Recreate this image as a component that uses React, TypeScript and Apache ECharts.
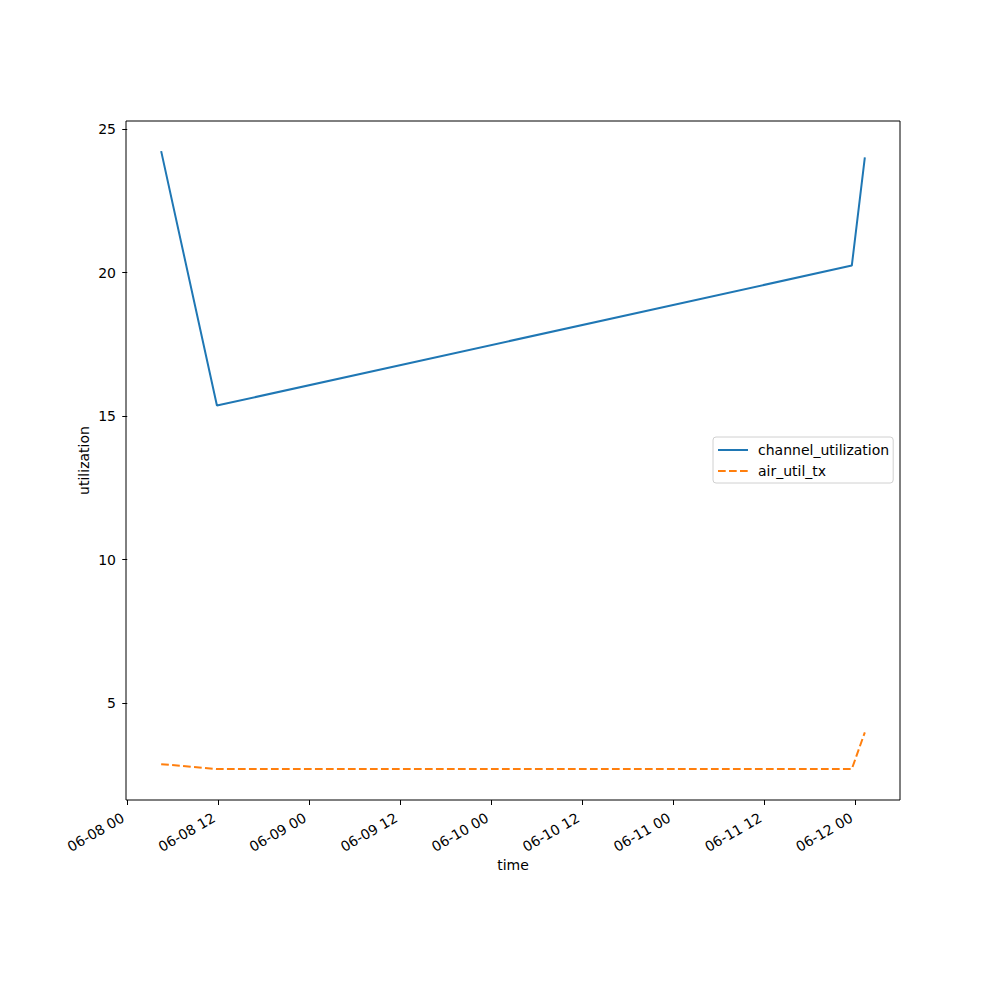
import React, { useEffect, useRef } from "react";
import * as echarts from "echarts";

const times = [
  "2024-06-08T04:28:00Z",
  "2024-06-08T11:49:00Z",
  "2024-06-11T23:29:00Z",
  "2024-06-12T01:12:00Z",
];
const channelUtilization = [24.24, 15.37, 20.25, 24.02];
const airUtilTx = [2.87, 2.7, 2.7, 3.98];
const xTicks = [
  "2024-06-08T00:00:00Z",
  "2024-06-08T12:00:00Z",
  "2024-06-09T00:00:00Z",
  "2024-06-09T12:00:00Z",
  "2024-06-10T00:00:00Z",
  "2024-06-10T12:00:00Z",
  "2024-06-11T00:00:00Z",
  "2024-06-11T12:00:00Z",
  "2024-06-12T00:00:00Z",
];
const yTicks = [5, 10, 15, 20, 25];
const xMin = "2024-06-07T23:50:00Z";
const xMax = "2024-06-12T05:50:00Z";
const yMin = 1.62;
const yMax = 25.29;

const FONT = "DejaVu Sans";
const ORIGIN = Date.parse(xTicks[0]);
const toH = (t: string) => (Date.parse(t) - ORIGIN) / 3600000;

function fmt(h: number) {
  const d = new Date(ORIGIN + Math.round(h * 3600000));
  const p = (n: number) => String(n).padStart(2, "0");
  return `${p(d.getUTCMonth() + 1)}-${p(d.getUTCDate())} ${p(d.getUTCHours())}`;
}

export default function App() {
  const ref = useRef<HTMLDivElement>(null);
  useEffect(() => {
    if (!ref.current) return;
    const chart = echarts.init(ref.current, null, { renderer: "svg" });
    const tickH = xTicks.map(toH);
    chart.setOption({
      animation: false,
      backgroundColor: "#ffffff",
      grid: {
        left: 126,
        top: 121,
        right: 100,
        bottom: 200,
        show: true,
        borderColor: "#000",
        borderWidth: 1,
        backgroundColor: "transparent",
      },
      legend: {
        orient: "vertical",
        left: 713,
        top: 437,
        padding: [6, 4, 5, 4],
        itemWidth: 30,
        itemHeight: 14,
        itemGap: 7,
        borderColor: "#d0d0d0",
        borderWidth: 1,
        borderRadius: 3,
        backgroundColor: "rgba(255,255,255,0.8)",
        itemStyle: { opacity: 0 },
        textStyle: { fontFamily: FONT, fontSize: 14, color: "#000", padding: [0, 0, 0, 5] },
        data: ["channel_utilization", "air_util_tx"],
      },
      xAxis: {
        type: "value",
        min: toH(xMin),
        max: toH(xMax),
        name: "time",
        nameLocation: "middle",
        nameGap: 58,
        nameMoveOverlap: false,
        nameTextStyle: { fontFamily: FONT, fontSize: 14, color: "#000" },
        axisLine: { show: false },
        splitLine: { show: false },
        axisTick: {
          show: true,
          length: 5,
          lineStyle: { color: "#000", width: 1 },
          customValues: tickH,
        },
        axisLabel: {
          show: true,
          rotate: 30,
          margin: 14,
          padding: [0, 5, 0, 0],
          fontFamily: FONT,
          fontSize: 14,
          color: "#000",
          customValues: tickH,
          formatter: (v: number) => fmt(v),
        },
      },
      yAxis: {
        type: "value",
        min: yMin,
        max: yMax,
        name: "utilization",
        nameLocation: "middle",
        nameGap: 35,
        nameMoveOverlap: false,
        nameTextStyle: { fontFamily: FONT, fontSize: 14, color: "#000" },
        axisLine: { show: false },
        splitLine: { show: false },
        axisTick: {
          show: true,
          length: 5,
          lineStyle: { color: "#000", width: 1 },
          customValues: yTicks,
        },
        axisLabel: {
          show: true,
          margin: 10,
          fontFamily: FONT,
          fontSize: 14,
          color: "#000",
          customValues: yTicks,
        },
      },
      series: [
        {
          name: "channel_utilization",
          type: "line",
          data: times.map((t, i) => [toH(t), channelUtilization[i]]),
          showSymbol: false,
          symbol: "none",
          color: "#1f77b4",
          lineStyle: { color: "#1f77b4", width: 2 },
        },
        {
          name: "air_util_tx",
          type: "line",
          data: times.map((t, i) => [toH(t), airUtilTx[i]]),
          showSymbol: false,
          symbol: "none",
          color: "#ff7f0e",
          lineStyle: { color: "#ff7f0e", width: 2, type: [7.7, 3.3] },
        },
      ],
    });
    return () => chart.dispose();
  }, []);
  return (
    <div
      ref={ref}
      style={{ position: "absolute", left: 0, top: 0, width: 1000, height: 1000 }}
    />
  );
}
